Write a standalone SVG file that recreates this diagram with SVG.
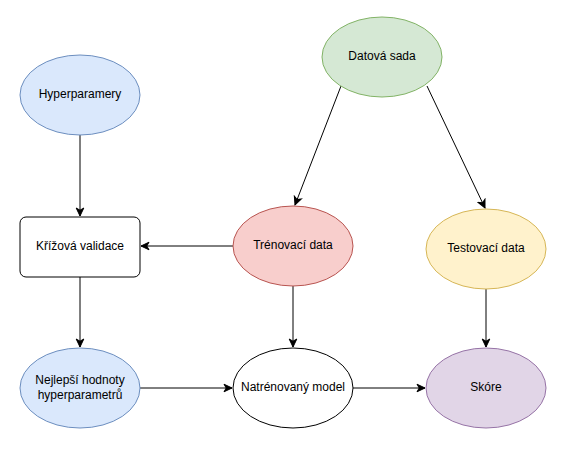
<svg xmlns="http://www.w3.org/2000/svg" width="566" height="455" viewBox="0 0 566 455">
  <defs>
    <marker id="arrow" markerUnits="userSpaceOnUse" markerWidth="10" markerHeight="10" viewBox="0 0 10 10" refX="9" refY="5" orient="auto">
      <path d="M1,1.2 L9,5 L1,8.8 L3.2,5 Z" fill="#000" stroke="#000" stroke-width="1"/>
    </marker>
  </defs>
  <style>
    .node { stroke-width: 1; }
    .label { font-family: "Liberation Sans", Arial, Helvetica, sans-serif; font-size: 12px; fill: #000; text-anchor: middle; dominant-baseline: central; }
    .edge { fill: none; stroke: #000; stroke-width: 1; marker-end: url(#arrow); }
    .blue { fill: #dae8fc; stroke: #6c8ebf; }
    .green { fill: #d5e8d4; stroke: #82b366; }
    .red { fill: #f8cecc; stroke: #b85450; }
    .yellow { fill: #fff2cc; stroke: #d6b656; }
    .purple { fill: #e1d5e7; stroke: #9673a6; }
    .plain { fill: #fff; stroke: #000; }
  </style>
  <rect width="566" height="455" fill="#fff"/>

  <g id="edges">
    <line class="edge" x1="80" y1="135" x2="80" y2="216"/>
    <line class="edge" x1="233" y1="246" x2="141" y2="246"/>
    <line class="edge" x1="80" y1="277" x2="80" y2="347"/>
    <line class="edge" x1="341" y1="86" x2="295" y2="205"/>
    <line class="edge" x1="427" y1="86" x2="485" y2="208"/>
    <line class="edge" x1="293" y1="286" x2="293" y2="347"/>
    <line class="edge" x1="486" y1="289" x2="486" y2="347"/>
    <line class="edge" x1="140" y1="388" x2="232" y2="388"/>
    <line class="edge" x1="353" y1="388" x2="425" y2="388"/>
  </g>

  <g id="datova-sada">
    <ellipse class="node green" cx="382" cy="57" rx="60" ry="40"/>
    <text class="label" x="382" y="56">Datová sada</text>
  </g>
  <g id="hyperparamery">
    <ellipse class="node blue" cx="80" cy="95" rx="60" ry="40"/>
    <text class="label" x="80" y="94">Hyperparamery</text>
  </g>
  <g id="krizova-validace">
    <rect class="node plain" x="20" y="217" width="120" height="60" rx="6"/>
    <text class="label" x="80" y="246">Křížová validace</text>
  </g>
  <g id="trenovaci-data">
    <ellipse class="node red" cx="293" cy="246" rx="60" ry="40"/>
    <text class="label" x="293" y="245">Trénovací data</text>
  </g>
  <g id="testovaci-data">
    <ellipse class="node yellow" cx="486" cy="249" rx="60" ry="40"/>
    <text class="label" x="486" y="248">Testovací data</text>
  </g>
  <g id="nejlepsi-hodnoty">
    <ellipse class="node blue" cx="80" cy="388" rx="60" ry="40"/>
    <text class="label" x="80" y="380">Nejlepší hodnoty</text>
    <text class="label" x="80" y="395">hyperparametrů</text>
  </g>
  <g id="natrenovany-model">
    <ellipse class="node plain" cx="293" cy="388" rx="60" ry="40"/>
    <text class="label" x="293" y="387">Natrénovaný model</text>
  </g>
  <g id="skore">
    <ellipse class="node purple" cx="486" cy="388" rx="60" ry="40"/>
    <text class="label" x="486" y="387">Skóre</text>
  </g>
</svg>
